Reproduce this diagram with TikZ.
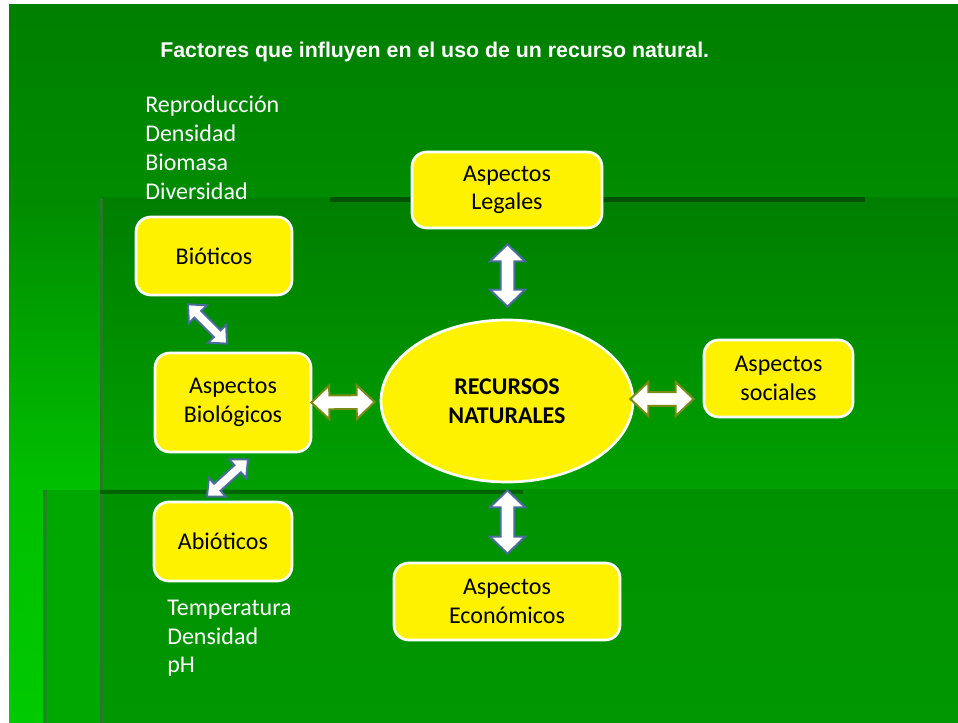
\documentclass[tikz,border=0pt]{standalone}
\usepackage{fontspec}
\setmainfont{Carlito}
\newfontfamily\titlefont{Liberation Sans}
\usetikzlibrary{calc,shapes.geometric}

\definecolor{topgreen}{RGB}{0,127,0}
\definecolor{uppergreen}{RGB}{0,140,0}
\definecolor{lowergreen}{RGB}{0,190,0}
\definecolor{lowgreen}{RGB}{0,202,0}
\definecolor{panelgreen}{RGB}{0,126,0}
\definecolor{panelgreenb}{RGB}{0,160,0}
\definecolor{floorgreen}{RGB}{0,145,0}
\definecolor{floorgreenb}{RGB}{0,151,0}
\definecolor{stripgreen}{RGB}{0,167,0}
\definecolor{edgegreen}{RGB}{40,120,40}
\definecolor{linegreen}{RGB}{0,82,0}
\definecolor{linegreenb}{RGB}{0,100,0}
\definecolor{arrowblue}{RGB}{74,108,156}
\definecolor{arrowolive}{RGB}{118,140,20}

\pgfdeclareverticalshading{slideshade}{100bp}{color(0bp)=(lowgreen); color(25bp)=(lowgreen);
  color(41.9bp)=(lowergreen); color(61.4bp)=(uppergreen); color(75bp)=(topgreen); color(100bp)=(topgreen)}

\tikzset{
  box/.style={draw=white, line width=2pt, fill=yellow, rounded corners=11pt, align=center,
    inner sep=0pt, font=\fontsize{18}{21.5}\selectfont},
  oval/.style={ellipse, draw=white, line width=2pt, fill=yellow, align=center, inner sep=0pt,
    font=\bfseries\fontsize{18}{21.5}\selectfont},
  listtext/.style={white, anchor=base west, inner sep=0pt, font=\fontsize{18}{21.5}\selectfont},
  dblarrow/.style n args={3}{to path={
    -- ($(\tikztostart)!#1!(\tikztotarget)!#2!90:(\tikztotarget)$)
    -- ($(\tikztostart)!#1!(\tikztotarget)!#3!90:(\tikztotarget)$)
    -- ($(\tikztotarget)!#1!(\tikztostart)!#3!-90:(\tikztostart)$)
    -- ($(\tikztotarget)!#1!(\tikztostart)!#2!-90:(\tikztostart)$)
    -- (\tikztotarget)
    -- ($(\tikztotarget)!#1!(\tikztostart)!#2!90:(\tikztostart)$)
    -- ($(\tikztotarget)!#1!(\tikztostart)!#3!90:(\tikztostart)$)
    -- ($(\tikztostart)!#1!(\tikztotarget)!#3!-90:(\tikztotarget)$)
    -- ($(\tikztostart)!#1!(\tikztotarget)!#2!-90:(\tikztotarget)$)
    -- cycle}},
  bluearrow/.style={draw=arrowblue, line width=1.5pt, fill=white, dblarrow={12.75pt}{13.2pt}{5.2pt}},
  olivearrow/.style={draw=arrowolive, line width=1.5pt, fill=white, dblarrow={13.5pt}{12.8pt}{5.2pt}},
  diagarrow/.style={draw=arrowblue, line width=1.5pt, fill=white, dblarrow={10.5pt}{9.5pt}{3.6pt}}
}

\begin{document}
\begin{tikzpicture}[x=0.75pt, y=-0.75pt]
  \useasboundingbox (0,0) rectangle (958,723);
  \fill[white] (0,0) rectangle (958,723);

  % slide background
  \shade[shading=slideshade] (9,5) rectangle (958,723);
  \shade[top color=panelgreen, bottom color=panelgreenb] (100,198) rectangle (958,490);
  \shade[top color=floorgreen, bottom color=floorgreenb] (100,490) rectangle (958,723);
  \fill[stripgreen] (43,490) rectangle (100,723);
  \fill[edgegreen] (100,198) rectangle (103,723);
  \fill[edgegreen!60!stripgreen] (43,490) rectangle (47,723);
  \fill[linegreen] (330,197) rectangle (865,202);
  \fill[linegreenb] (100,490) rectangle (523,494);

  \node[white, anchor=base west, inner sep=0pt, font=\titlefont\bfseries\fontsize{16}{19}\selectfont]
    (title) at (160,58) {Factores que influyen en el uso de un recurso natural.};

  \foreach \w [count=\i] in {Reproducción, Densidad, Biomasa, Diversidad}
    \node[listtext] (bl\i) at (145,{113+28.7*(\i-1)}) {\w};
  \foreach \w [count=\i] in {Temperatura, Densidad, pH}
    \node[listtext] (al\i) at (167,{616+28.5*(\i-1)}) {\w};

  \node[box, minimum width=117pt, minimum height=58.5pt] (bio) at (214,256) {Bióticos};
  \node[box, minimum width=117pt, minimum height=74.25pt] (biol) at (233,402.5) {Aspectos\\Biológicos};
  \node[box, minimum width=103.5pt, minimum height=59.25pt] (abio) at (223,541.5) {Abióticos};
  \node[box, minimum width=142.5pt, minimum height=57pt] (leg) at (507,190) {Aspectos\\Legales};
  \node[box, minimum width=111.75pt, minimum height=57.75pt] (soc) at (778.5,378.5) {Aspectos\\sociales};
  \node[box, minimum width=169.5pt, minimum height=57.75pt] (eco) at (507,601.5) {Aspectos\\Económicos};
  \node[oval, minimum width=189pt, minimum height=121.5pt] (res) at (507,401) {RECURSOS\\NATURALES};

  % arrow ends
  \coordinate (lega) at ($(leg.south)+(0.5,15)$);
  \coordinate (legb) at ($(res.north)+(0.5,-12)$);
  \coordinate (ecoa) at ($(res.south)+(0.5,7)$);
  \coordinate (ecob) at ($(eco.north)+(0.5,-8)$);
  \coordinate (biola) at ($(biol.east)+(-1,0)$);
  \coordinate (biolb) at ($(res.west)+(-5,1)$);
  \coordinate (soca) at ($(res.east)+(-4,-2)$);
  \coordinate (socb) at ($(soc.west)+(-9,20.5)$);
  \coordinate (bioa) at ($(bio.south)+(-26,8)$);
  \coordinate (biob) at ($(biol.north)+(-6,-8)$);
  \coordinate (abioa) at ($(biol.south)+(15,6)$);
  \coordinate (abiob) at ($(abio.north)+(-16,-4)$);

  \draw[bluearrow] (lega) to (legb);
  \draw[bluearrow] (ecoa) to (ecob);
  \draw[olivearrow] (biola) to (biolb);
  \draw[olivearrow] (soca) to (socb);
  \draw[diagarrow] (bioa) to (biob);
  \draw[diagarrow] (abioa) to (abiob);
\end{tikzpicture}
\end{document}
